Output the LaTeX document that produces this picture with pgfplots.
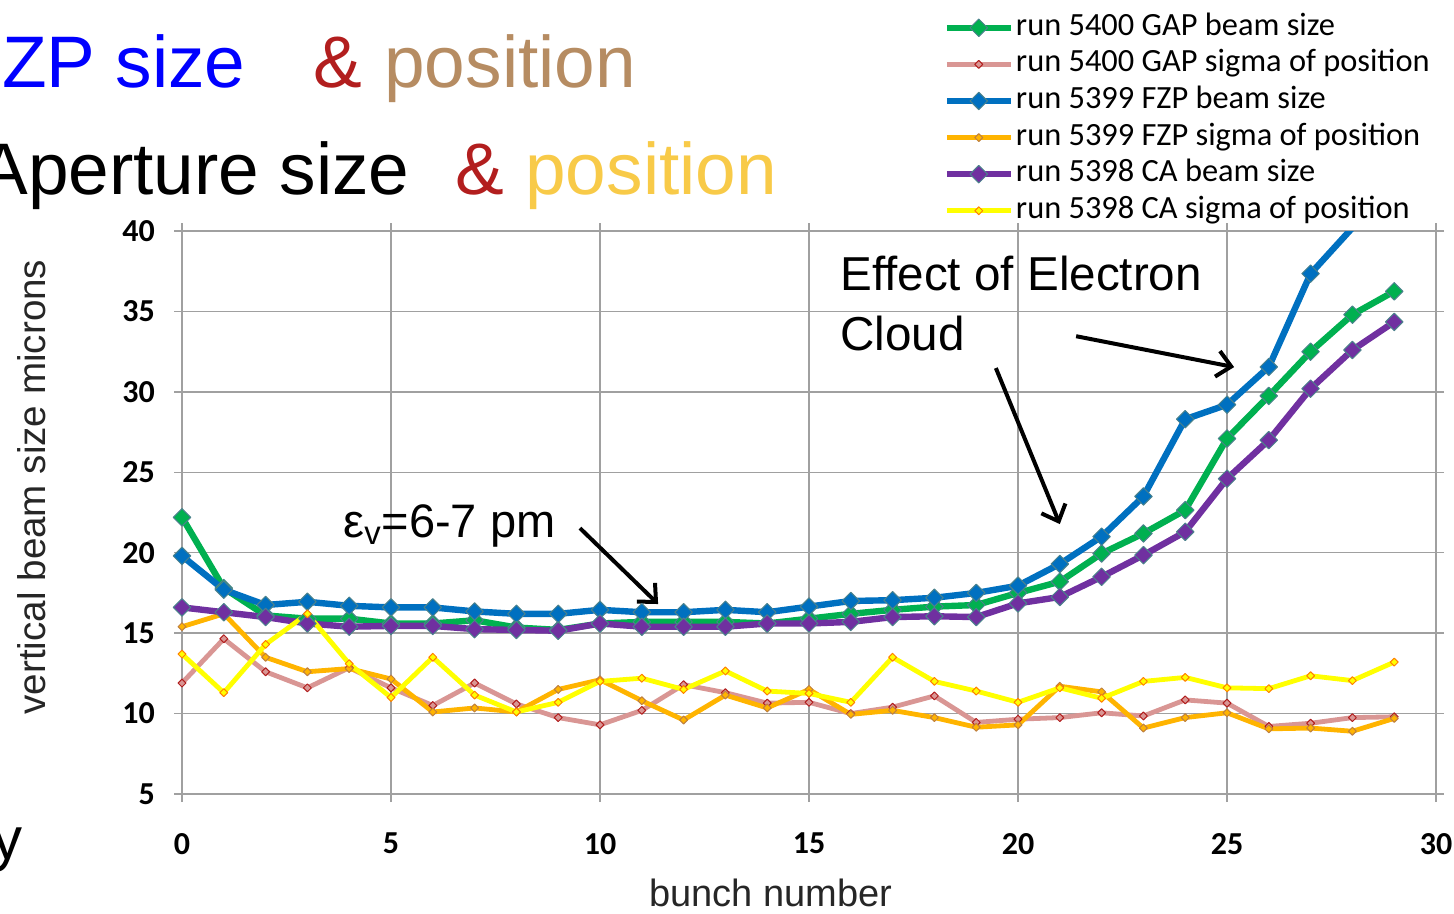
\documentclass[border=0pt]{standalone}
\usepackage{pgfplots}
\pgfplotsset{compat=1.18}
\usepackage{pgfplotstable}
\usepackage{fontspec}
\setmainfont{Liberation Sans}
\newfontfamily\calib{Carlito}
\usetikzlibrary{arrows.meta}

\definecolor{cgreen}{RGB}{0,176,80}
\definecolor{cpink}{RGB}{217,150,148}
\definecolor{cblue}{RGB}{0,112,192}
\definecolor{corange}{RGB}{255,180,0}
\definecolor{cpurple}{RGB}{112,48,160}
\definecolor{cyellow}{RGB}{255,255,0}
\definecolor{edgec}{RGB}{75,130,140}
\definecolor{gridc}{RGB}{160,160,160}
\definecolor{ampred}{RGB}{178,30,30}
\definecolor{tan}{RGB}{182,140,98}
\definecolor{gold}{RGB}{248,202,72}
\definecolor{titleblue}{RGB}{0,0,255}

% bunch number vs. vertical beam size / sigma of position (microns)
\pgfplotstableread{
x  gapsize gapsig fzpsize fzpsig casize casig
0  22.2  11.9  19.8  15.4  16.6  13.7
1  17.8  14.65 17.7  16.2  16.3  11.3
2  16.1  12.6  16.75 13.5  16.0  14.3
3  15.9  11.6  16.95 12.6  15.6  16.2
4  15.9  12.85 16.7  12.8  15.4  13.1
5  15.6  11.6  16.6  12.15 15.45 11.0
6  15.6  10.5  16.6  10.1  15.45 13.5
7  15.8  11.9  16.35 10.35 15.25 11.15
8  15.35 10.6  16.2  10.1  15.2  10.1
9  15.2  9.75  16.2  11.5  15.15 10.7
10 15.6  9.3   16.45 12.1  15.6  12.0
11 15.7  10.2  16.3  10.8  15.4  12.2
12 15.7  11.8  16.3  9.6   15.4  11.5
13 15.7  11.3  16.45 11.15 15.4  12.65
14 15.6  10.65 16.3  10.35 15.6  11.4
15 15.9  10.7  16.65 11.5  15.6  11.25
16 16.2  10.0  17.0  9.95  15.7  10.7
17 16.45 10.4  17.05 10.2  16.0  13.5
18 16.65 11.1  17.2  9.75  16.05 12.0
19 16.75 9.45  17.5  9.15  16.0  11.4
20 17.5  9.65  17.95 9.3   16.85 10.7
21 18.2  9.75  19.3  11.7  17.25 11.6
22 19.95 10.05 21.0  11.35 18.5  10.95
23 21.2  9.85  23.5  9.1   19.85 12.0
24 22.65 10.85 28.3  9.75  21.3  12.25
25 27.1  10.65 29.2  10.05 24.6  11.6
26 29.75 9.2   31.55 9.05  27.0  11.55
27 32.5  9.4   37.35 9.1   30.2  12.35
28 34.8  9.75  40.2  8.9   32.6  12.05
29 36.25 9.8   42.5  9.7   34.35 13.2
}\beamdata

\pgfplotsset{
  sizeline/.style={line width=3.2pt, line join=round, color=#1,
    mark=square*, mark size=3.1pt,
    mark options={rotate=45, solid, line width=0.5pt, draw=edgec, fill=#1}},
  sigline/.style n args={2}{line width=2.4pt, line join=round, color=#1,
    mark=square*, mark size=1.4pt,
    mark options={rotate=45, solid, line width=0.5pt, draw=#2, fill=#1}},
}

\begin{document}
\begin{tikzpicture}
\useasboundingbox (0,0) rectangle (727pt,-457pt);
\clip (0,0) rectangle (727pt,-457pt);

\begin{axis}[
  at={(91pt,-397pt)}, anchor=south west,
  scale only axis, width=627pt, height=281.5pt,
  xmin=0, xmax=30, ymin=5, ymax=40,
  xtick={0,5,...,30}, ytick={5,10,...,40},
  grid=major, grid style={gridc, line width=0.75pt},
  axis line style={gridc, line width=0.75pt},
  major tick style={gridc, line width=0.75pt},
  tick align=outside, major tick length=4pt,
  /pgf/number format/assume math mode=true,
  ticklabel style={font=\calib\bfseries\fontsize{16}{19}\selectfont},
  xticklabel style={yshift=-12pt},
  yticklabel style={xshift=-6pt},
  legend style={at={(axis description cs:0.607,1.391)}, anchor=north west,
    draw=none, fill=none, inner sep=0pt,
    font=\calib\fontsize{16.2}{18}\selectfont,
    nodes={inner sep=1pt, text height=11pt, text depth=3.5pt},
    row sep=1.8pt, cells={anchor=west}},
  legend image code/.code={\draw[mark repeat=2, mark phase=2, #1]
    plot coordinates {(0pt,0pt) (16pt,0pt) (32pt,0pt)};},
]
\addplot[sizeline=cgreen] table[x=x, y=gapsize] {\beamdata};
\addlegendentry{run 5400 GAP beam size}
\addplot[sigline={cpink}{ampred}] table[x=x, y=gapsig] {\beamdata};
\addlegendentry{run 5400 GAP sigma of position}
% FZP beam size runs off the top: line everywhere, markers only inside the range
\addplot[sizeline=cblue, no marks, forget plot] table[x=x, y=fzpsize] {\beamdata};
\addplot[sizeline=cblue, only marks, restrict y to domain=0:40, forget plot]
  table[x=x, y=fzpsize] {\beamdata};
\addlegendimage{sizeline=cblue}
\addlegendentry{run 5399 FZP beam size}
\addplot[sigline={corange}{brown}] table[x=x, y=fzpsig] {\beamdata};
\addlegendentry{run 5399 FZP sigma of position}
\addplot[sizeline=cpurple] table[x=x, y=casize] {\beamdata};
\addlegendentry{run 5398 CA beam size}
\addplot[sigline={cyellow}{orange}] table[x=x, y=casig] {\beamdata};
\addlegendentry{run 5398 CA sigma of position}

% annotations
\node[anchor=base west, inner sep=0pt, font=\fontsize{23.5}{28}\selectfont]
  at (axis cs:3.85,20.97) {ε\textsubscript{v}=6-7 pm};
\node[anchor=base west, inner sep=0pt, font=\fontsize{23.8}{28}\selectfont]
  at (axis cs:15.74,36.32) {Effect of Electron};
\node[anchor=base west, inner sep=0pt, font=\fontsize{23.8}{28}\selectfont]
  at (axis cs:15.74,32.59) {Cloud};
\draw[line width=2pt, -{Straight Barb[length=7pt, width=13pt, line width=2pt]}]
  (axis cs:9.52,21.53) -- (axis cs:11.39,16.81);
\draw[line width=2pt, -{Straight Barb[length=7pt, width=13pt, line width=2pt]}]
  (axis cs:19.47,31.48) -- (axis cs:21.0,21.78);
\draw[line width=2pt, -{Straight Barb[length=7pt, width=13pt, line width=2pt]}]
  (axis cs:21.39,33.46) -- (axis cs:25.17,31.54);
\end{axis}

% page text around the chart (pixel-style coordinates, y downward)
\begin{scope}[x=0.5pt, y=-0.5pt]
  \node[anchor=base west, inner sep=0pt, font=\fontsize{36.5}{40}\selectfont, text=titleblue]
    at (-43,88) {FZP size};
  \node[anchor=base west, inner sep=0pt, font=\fontsize{36.5}{40}\selectfont, text=ampred]
    at (313,88) {\&};
  \node[anchor=base west, inner sep=0pt, font=\fontsize{36.5}{40}\selectfont, text=tan]
    at (384,88) {position};
  \node[anchor=base east, inner sep=0pt, font=\fontsize{36.5}{40}\selectfont, text=black]
    at (410,195) {Aperture size};
  \node[anchor=base west, inner sep=0pt, font=\fontsize{36.5}{40}\selectfont, text=ampred]
    at (455,195) {\&};
  \node[anchor=base west, inner sep=0pt, font=\fontsize{36.5}{40}\selectfont, text=gold]
    at (525,195) {position};
  \node[anchor=base east, inner sep=0pt, font=\fontsize{30}{34}\selectfont]
    at (23,859) {y};
  \node[rotate=90, inner sep=0pt, font=\fontsize{19.3}{22}\selectfont, text=black!85]
    at (32,487) {vertical beam size microns};
  \node[anchor=base, inner sep=0pt, font=\fontsize{19}{22}\selectfont, text=black!85]
    at (771,906) {bunch number};
\end{scope}
\end{tikzpicture}
\end{document}
